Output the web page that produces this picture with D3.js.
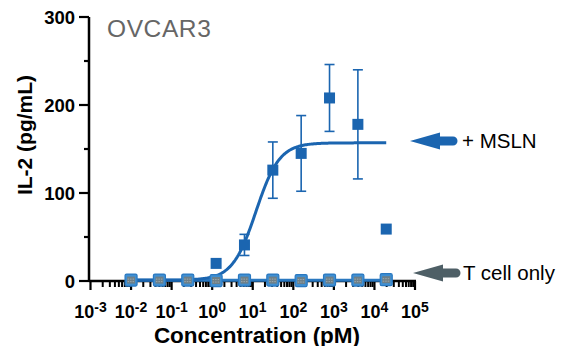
<!DOCTYPE html>
<html>
<head>
<meta charset="utf-8">
<script src="https://cdn.jsdelivr.net/npm/d3@7"></script>
<style>
  html, body { margin: 0; padding: 0; background: #fff; }
  svg { display: block; font-family: "Liberation Sans", Arial, sans-serif; }
</style>
</head>
<body>
<svg id="chart" width="561" height="346"></svg>
<script>
// Concentrations (pM), 5-fold dilution series
const concentrations = [0.01, 0.05, 0.25, 1.25, 6.25, 31.25, 156.25, 781.25, 3906.25, 19531.25];
// IL-2 (pg/mL), mean and SD, OVCAR3 co-culture with MSLN
const msln = [1.5, 1.5, 1, 20, 41, 126, 145, 208, 178, 59];
const mslnSD = [0, 0, 0, 0, 12, 32, 43, 38, 62, 0];
// T cells alone
const tcellOnly = [1, 1, 1, 0.5, 1, 1, 0.5, 1, 1, 1.5];
// 4-parameter logistic fit of the MSLN series (last point excluded)
const fitBottom = 1, fitTop = 157, fitEC50 = 12, fitHill = 1.5;
const fitRange = [0.01, 19531.25];

const yTicks = [0, 100, 200, 300];
const yMinorTicks = [50, 150, 250];
const xDecades = [-3, -2, -1, 0, 1, 2, 3, 4, 5];

const blue = "#1b65b0";
const grey = "#4e5f66";
const svg = d3.select("#chart");

const x = d3.scaleLog().domain([1e-3, 1e5]).range([90.5, 415]);
const y = d3.scaleLinear().domain([0, 300]).range([281, 17]);

// Axes
const axisColor = "#000";
const gx = svg.append("g");
gx.append("line").attr("x1", 89).attr("x2", x(1e5) + 1).attr("y1", y(0)).attr("y2", y(0))
  .attr("stroke", axisColor).attr("stroke-width", 2.5);
// minor log ticks
const minor = [];
xDecades.slice(0, -1).forEach(d => { for (let k = 2; k <= 9; k++) minor.push(k * Math.pow(10, d)); });
gx.selectAll("line.minor").data(minor).join("line").attr("class", "minor")
  .attr("x1", d => x(d)).attr("x2", d => x(d)).attr("y1", y(0)).attr("y2", y(0) + 6)
  .attr("stroke", axisColor).attr("stroke-width", 2);
gx.selectAll("line.major").data(xDecades).join("line").attr("class", "major")
  .attr("x1", d => x(Math.pow(10, d))).attr("x2", d => x(Math.pow(10, d)))
  .attr("y1", y(0)).attr("y2", y(0) + 9)
  .attr("stroke", axisColor).attr("stroke-width", 2.2);
const xl = gx.selectAll("text.tick").data(xDecades).join("text").attr("class", "tick")
  .attr("x", d => x(Math.pow(10, d))).attr("y", 318)
  .attr("text-anchor", "middle").attr("font-weight", "bold").attr("font-size", 18);
xl.append("tspan").text("10");
xl.append("tspan").attr("dy", -6.5).attr("font-size", 14).text(d => d);

const gy = svg.append("g");
gy.append("line").attr("x1", 89).attr("x2", 89).attr("y1", y(300)).attr("y2", y(0) + 1)
  .attr("stroke", axisColor).attr("stroke-width", 2.5);
gy.selectAll("line.major").data(yTicks).join("line").attr("class", "major")
  .attr("x1", 89).attr("x2", 79).attr("y1", d => y(d)).attr("y2", d => y(d))
  .attr("stroke", axisColor).attr("stroke-width", 2.2);
gy.selectAll("line.minor").data(yMinorTicks).join("line").attr("class", "minor")
  .attr("x1", 89).attr("x2", 84).attr("y1", d => y(d)).attr("y2", d => y(d))
  .attr("stroke", axisColor).attr("stroke-width", 2.2);
gy.selectAll("text").data(yTicks).join("text")
  .attr("x", 75).attr("y", d => y(d) + 6.5).attr("text-anchor", "end")
  .attr("font-weight", "bold").attr("font-size", 18.5).text(d => d);

// Axis titles
svg.append("text").attr("transform", "translate(32,135) rotate(-90)")
  .attr("text-anchor", "middle").attr("font-weight", "bold").attr("font-size", 21)
  .text("IL-2 (pg/mL)");
svg.append("text").attr("x", 257).attr("y", 342.5).attr("text-anchor", "middle")
  .attr("font-weight", "bold").attr("font-size", 22.5).text("Concentration (pM)");

// Panel title
svg.append("text").attr("x", 107).attr("y", 37).attr("fill", "#666")
  .attr("font-size", 24.5).attr("letter-spacing", 0.6).text("OVCAR3");

// T cell only: flat fit line and markers
svg.append("line").attr("x1", x(concentrations[0])).attr("x2", x(concentrations[concentrations.length - 1]))
  .attr("y1", y(d3.mean(tcellOnly))).attr("y2", y(d3.mean(tcellOnly)))
  .attr("stroke", "#2a78c0").attr("stroke-width", 3);

// MSLN fit curve
const logistic = c => fitBottom + (fitTop - fitBottom) / (1 + Math.pow(fitEC50 / c, fitHill));
const curvePts = d3.range(0, 241).map(i => {
  const lc = Math.log10(fitRange[0]) + i / 240 * (Math.log10(fitRange[1]) - Math.log10(fitRange[0]));
  return Math.pow(10, lc);
});
svg.append("path").datum(curvePts)
  .attr("d", d3.line().x(c => x(c)).y(c => y(logistic(c))))
  .attr("fill", "none").attr("stroke", blue).attr("stroke-width", 3);

// MSLN error bars
const eb = svg.append("g").attr("stroke", blue).attr("stroke-width", 1.6);
concentrations.forEach((c, i) => {
  const sd = mslnSD[i];
  if (!sd) return;
  const cx = x(c);
  eb.append("line").attr("x1", cx).attr("x2", cx).attr("y1", y(msln[i] + sd)).attr("y2", y(msln[i] - sd));
  eb.append("line").attr("x1", cx - 5).attr("x2", cx + 5).attr("y1", y(msln[i] + sd)).attr("y2", y(msln[i] + sd));
  eb.append("line").attr("x1", cx - 5).attr("x2", cx + 5).attr("y1", y(msln[i] - sd)).attr("y2", y(msln[i] - sd));
});

// T cell only markers
const tm = svg.append("g");
concentrations.forEach((c, i) => {
  const cx = x(c), cy = y(tcellOnly[i]);
  tm.append("rect").attr("x", cx - 6).attr("y", cy - 6).attr("width", 12).attr("height", 12)
    .attr("rx", 1.5).attr("fill", "#3f8fd2").attr("stroke", "#2a78c0").attr("stroke-width", 1.2);
  tm.append("rect").attr("x", cx - 4).attr("y", cy - 3.5).attr("width", 8).attr("height", 7)
    .attr("fill", "#6e7f87");
  tm.append("line").attr("x1", cx - 3.5).attr("x2", cx + 3.5).attr("y1", cy - 1).attr("y2", cy - 1)
    .attr("stroke", "#9aa9b0").attr("stroke-width", 1).attr("stroke-dasharray", "1.5,1");
  tm.append("line").attr("x1", cx - 3.5).attr("x2", cx + 3.5).attr("y1", cy + 1.5).attr("y2", cy + 1.5)
    .attr("stroke", "#9aa9b0").attr("stroke-width", 1).attr("stroke-dasharray", "1.5,1");
});

// MSLN markers (low points sit under the T cell markers)
svg.append("g").selectAll("rect").data(concentrations.map((c, i) => [c, msln[i]]).filter(d => d[1] > 5))
  .join("rect")
  .attr("x", d => x(d[0]) - 5.5).attr("y", d => y(d[1]) - 5.5)
  .attr("width", 11).attr("height", 11).attr("fill", blue);

// Legend arrows
function arrow(g, tipX, tipY, color) {
  const p = d3.path();
  p.moveTo(tipX, tipY);
  p.lineTo(tipX + 30, tipY - 8.5);
  p.lineTo(tipX + 30, tipY - 4.5);
  p.lineTo(tipX + 43, tipY - 4.5);
  p.arc(tipX + 43, tipY, 4.5, -Math.PI / 2, Math.PI / 2);
  p.lineTo(tipX + 30, tipY + 4.5);
  p.lineTo(tipX + 30, tipY + 8.5);
  p.closePath();
  g.append("path").attr("d", p.toString()).attr("fill", color);
}
const lg = svg.append("g");
arrow(lg, 410, 141, blue);
lg.append("text").attr("x", 462).attr("y", 148).attr("font-size", 20.5).text("+ MSLN");
arrow(lg, 413, 273, grey);
lg.append("text").attr("x", 463).attr("y", 280).attr("font-size", 20.5).text("T cell only");
</script>
</body>
</html>
